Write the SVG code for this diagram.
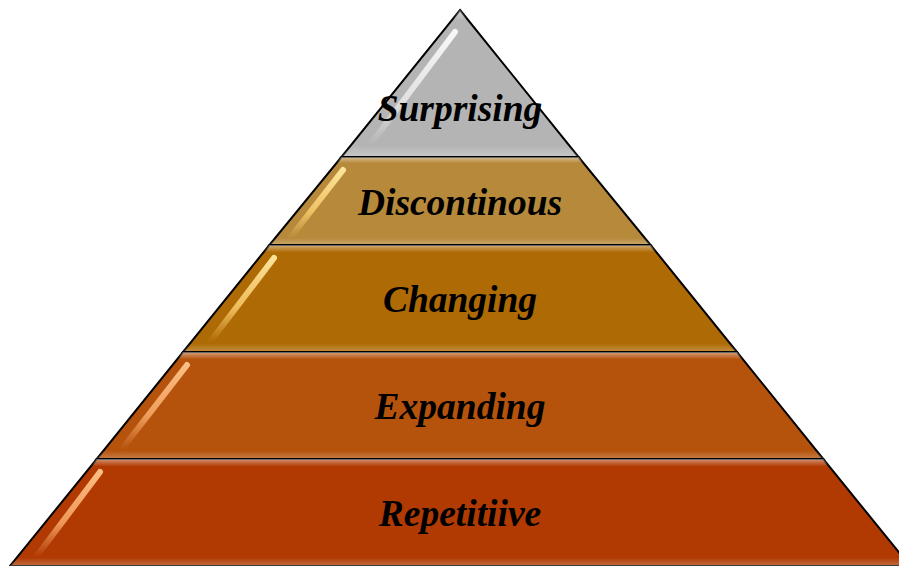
<svg xmlns="http://www.w3.org/2000/svg" width="899" height="566" viewBox="0 0 899 566">
<style>
.lay{stroke:#000;stroke-width:2;stroke-linejoin:miter}
.bev{fill:url(#bevel);stroke:none}
.hl{fill:none;stroke-width:6;stroke-linecap:round}
.lbl{font-family:"Liberation Serif","Times New Roman",serif;font-weight:bold;font-style:italic;font-size:37.5px;fill:#000;text-anchor:middle}
</style>
<defs>
<linearGradient id="bevel" x1="0" y1="0" x2="0" y2="1">
<stop offset="0" stop-color="#fff" stop-opacity="0.45"/>
<stop offset="0.07" stop-color="#fff" stop-opacity="0"/>
<stop offset="0.92" stop-color="#fff" stop-opacity="0"/>
<stop offset="1" stop-color="#fff" stop-opacity="0.25"/>
</linearGradient>
<linearGradient id="hlw" x1="0" y1="0" x2="0" y2="1">
<stop offset="0" stop-color="#fff" stop-opacity="0.9"/>
<stop offset="0.6" stop-color="#fff" stop-opacity="0.6"/>
<stop offset="1" stop-color="#fff" stop-opacity="0"/>
</linearGradient>
<linearGradient id="hly" x1="0" y1="0" x2="0" y2="1">
<stop offset="0" stop-color="#ffe9a0" stop-opacity="0.95"/>
<stop offset="0.6" stop-color="#ffd070" stop-opacity="0.8"/>
<stop offset="1" stop-color="#ffd070" stop-opacity="0"/>
</linearGradient>
<linearGradient id="hlo" x1="0" y1="0" x2="0" y2="1">
<stop offset="0" stop-color="#ffc48a" stop-opacity="0.95"/>
<stop offset="0.6" stop-color="#ffb070" stop-opacity="0.8"/>
<stop offset="1" stop-color="#ffb070" stop-opacity="0"/>
</linearGradient>
</defs>
<g id="layer-surprising">
<polygon class="lay" fill="#b4b4b4" points="460,10 578.6,157 341.4,157"/>
<polygon class="bev" points="460,10 578.6,157 341.4,157"/>
<line class="hl" stroke="url(#hlw)" x1="455" y1="32" x2="370" y2="145"/>
<text class="lbl" x="460" y="121">Surprising</text>
</g>
<g id="layer-discontinous">
<polygon class="lay" fill="#b78a3b" points="341.4,157 578.6,157 650.6,245 269.4,245"/>
<polygon class="bev" points="341.4,157 578.6,157 650.6,245 269.4,245"/>
<line class="hl" stroke="url(#hly)" x1="343" y1="170" x2="290" y2="238"/>
<text class="lbl" x="460" y="215">Discontinous</text>
</g>
<g id="layer-changing">
<polygon class="lay" fill="#ae6a04" points="269.4,245 650.6,245 737,352 183,352"/>
<polygon class="bev" points="269.4,245 650.6,245 737,352 183,352"/>
<line class="hl" stroke="url(#hly)" x1="274" y1="258" x2="210" y2="342"/>
<text class="lbl" x="460" y="312">Changing</text>
</g>
<g id="layer-expanding">
<polygon class="lay" fill="#b5530c" points="183,352 737,352 823.3,459 96.7,459"/>
<polygon class="bev" points="183,352 737,352 823.3,459 96.7,459"/>
<line class="hl" stroke="url(#hlo)" x1="187" y1="365" x2="122" y2="449"/>
<text class="lbl" x="460" y="419">Expanding</text>
</g>
<g id="layer-repetitiive">
<polygon class="lay" fill="#b13a02" points="96.7,459 823.3,459 910,566 10,566"/>
<polygon class="bev" points="96.7,459 823.3,459 910,566 10,566"/>
<line class="hl" stroke="url(#hlo)" x1="100" y1="472" x2="36" y2="557"/>
<text class="lbl" x="460" y="526">Repetitiive</text>
</g>
<g id="connectors"/>
</svg>
